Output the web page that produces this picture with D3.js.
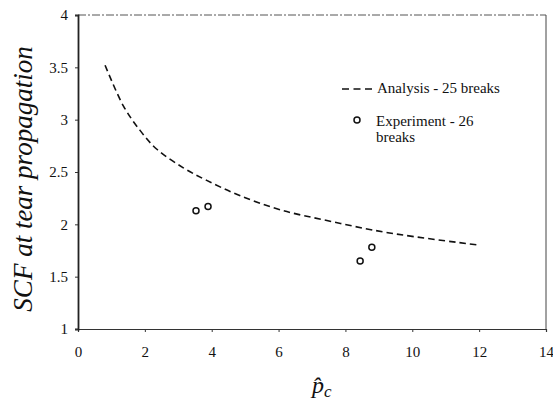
<!DOCTYPE html>
<html>
<head>
<meta charset="utf-8">
<script src="https://cdn.jsdelivr.net/npm/d3@7"></script>
</head>
<body style="margin:0; background:#fff">
<script>
// analysis curve (25 breaks)
var analysisX = [0.81, 1.36, 1.85, 2.35, 3.15, 3.85, 4.8, 6.04, 7.54, 9.27, 12.03];
var analysisY = [3.52, 3.13, 2.9, 2.72, 2.54, 2.42, 2.28, 2.14, 2.03, 1.92, 1.8];

// experiment points (26 breaks)
var expX = [3.53, 3.89, 8.44, 8.79];
var expY = [2.13, 2.17, 1.65, 1.78];

var xTicks = [0, 2, 4, 6, 8, 10, 12, 14];
var yTicks = [1, 1.5, 2, 2.5, 3, 3.5, 4];

var svgWidth = 553;
var svgHeight = 402;
var margin = { top: 15, right: 7, bottom: 73, left: 78 };
var width = svgWidth - margin.left - margin.right;
var height = svgHeight - margin.top - margin.bottom;
var serif = "'Liberation Serif', 'Times New Roman', serif";

var svg = d3.select("body")
  .append("svg")
  .attr("width", svgWidth)
  .attr("height", svgHeight);

var g = svg.append("g")
  .attr("transform", `translate(${margin.left}, ${margin.top})`);

var xScale = d3.scaleLinear().domain([0, 14]).range([0, width]);
var yScale = d3.scaleLinear().domain([1, 4]).range([height, 0]);

// frame: top dash-dot, right thin
g.append("line")
  .attr("x1", 0).attr("x2", width).attr("y1", 0).attr("y2", 0)
  .attr("stroke", "#555").attr("stroke-width", 1)
  .attr("stroke-dasharray", "8,2,2,2");
g.append("line")
  .attr("x1", width).attr("x2", width).attr("y1", 0).attr("y2", height)
  .attr("stroke", "#444").attr("stroke-width", 1);

// axes
var xAxis = g.append("g")
  .attr("transform", `translate(0, ${height})`)
  .call(d3.axisBottom(xScale).tickValues(xTicks).tickSize(3).tickPadding(14).tickFormat(d3.format("d")));
var yAxis = g.append("g")
  .call(d3.axisLeft(yScale).tickValues(yTicks).tickSize(3).tickPadding(7).tickFormat(d => d));

xAxis.attr("font-family", serif);
yAxis.attr("font-family", serif);
xAxis.select(".domain").attr("stroke", "#333").attr("stroke-width", 1.2);
yAxis.select(".domain").attr("stroke", "#222").attr("stroke-width", 1.8);
svg.selectAll(".tick line").attr("stroke", "#333");
svg.selectAll(".tick text")
  .attr("font-size", 15)
  .attr("fill", "#111");

// analysis curve
var line = d3.line()
  .x(d => xScale(d[0]))
  .y(d => yScale(d[1]))
  .curve(d3.curveCatmullRom);

g.append("path")
  .datum(d3.zip(analysisX, analysisY))
  .attr("fill", "none")
  .attr("stroke", "#111")
  .attr("stroke-width", 1.6)
  .attr("stroke-dasharray", "6.5,4")
  .attr("d", line);

// experiment points
g.selectAll(".pt")
  .data(d3.zip(expX, expY))
  .enter()
  .append("circle")
  .attr("cx", d => xScale(d[0]))
  .attr("cy", d => yScale(d[1]))
  .attr("r", 3)
  .attr("fill", "#fff")
  .attr("stroke", "#111")
  .attr("stroke-width", 1.5);

// legend
var leg = svg.append("g");
leg.append("line")
  .attr("x1", 342).attr("x2", 372).attr("y1", 89).attr("y2", 89)
  .attr("stroke", "#111").attr("stroke-width", 1.4)
  .attr("stroke-dasharray", "7,4.5");
leg.append("text").attr("x", 377).attr("y", 93).attr("font-size", 15)
  .text("Analysis - 25 breaks");
leg.append("circle").attr("cx", 357).attr("cy", 120).attr("r", 3)
  .attr("fill", "#fff").attr("stroke", "#111").attr("stroke-width", 1.5);
leg.append("text").attr("x", 376).attr("y", 126).attr("font-size", 15)
  .text("Experiment - 26");
leg.append("text").attr("x", 376).attr("y", 142).attr("font-size", 15)
  .text("breaks");

// axis titles
svg.append("text")
  .attr("transform", "translate(32, 179) rotate(-90)")
  .attr("text-anchor", "middle")
  .attr("font-size", 27)
  .attr("font-style", "italic")
  .text("SCF at tear propagation");

var xl = svg.append("text")
  .attr("x", 312).attr("y", 393)
  .attr("font-size", 24)
  .attr("font-style", "italic");
xl.append("tspan").text("p\u0302");
xl.append("tspan").attr("dy", 4).attr("font-size", 17).text("c");

svg.selectAll("text")
  .style("font-family", serif)
  .style("fill", "#111");
</script>
</body>
</html>
